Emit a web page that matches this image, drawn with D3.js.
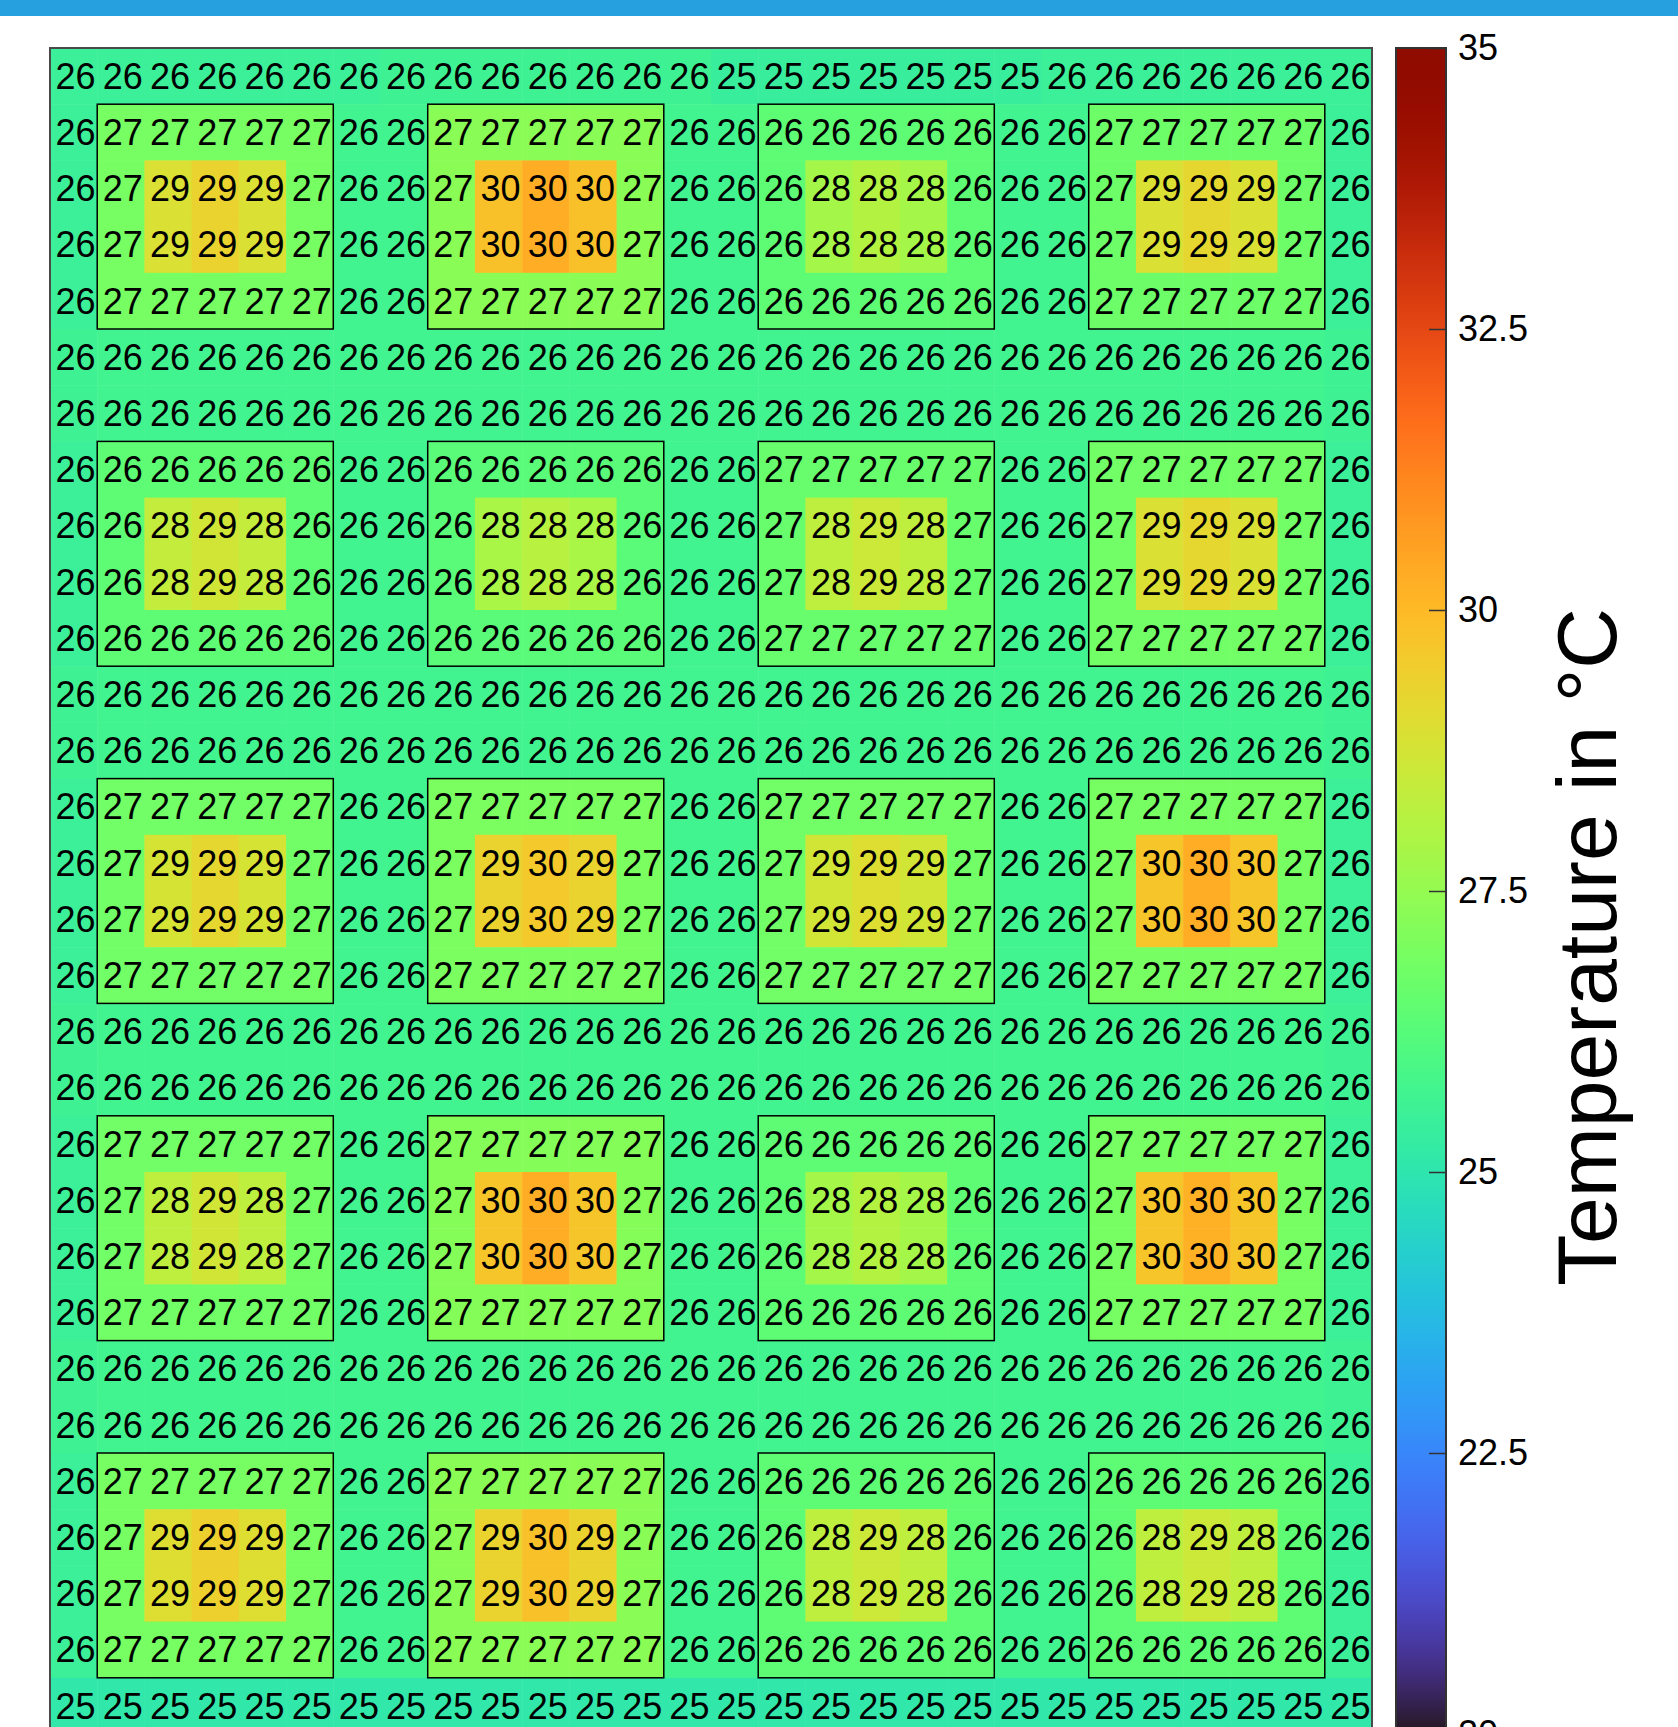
<!DOCTYPE html>
<html>
<head>
<meta charset="utf-8">
<script src="https://cdn.jsdelivr.net/npm/d3@7"></script>
<style>
    html, body { margin: 0; padding: 0; background: #fff; overflow: hidden; }
    #topBar { position: absolute; left: 0; top: 0; width: 1678px; height: 16px; background: #26a0de; }
    #heatmap { display: block; }
    text { font-family: "Liberation Sans", Arial, Helvetica, sans-serif; }
</style>
</head>
<body>
<div id="topBar"></div>
<svg id="heatmap" width="1678" height="1760"></svg>
<script>
// temperature per cell (°C), one array per row
const temps = [
    [25.5, 25.5, 25.5, 25.5, 25.5, 25.5, 25.5, 25.6, 25.6, 25.6, 25.6, 25.6, 25.6, 25.6, 25.4, 25.4, 25.4, 25.4, 25.4, 25.4, 25.4, 25.5, 25.5, 25.5, 25.5, 25.5, 25.5, 25.5],
    [25.5, 26.9, 26.9, 26.9, 26.9, 26.9, 25.7, 25.7, 27.3, 27.3, 27.3, 27.3, 27.3, 25.7, 25.7, 26.4, 26.4, 26.4, 26.4, 26.4, 25.7, 25.7, 26.7, 26.7, 26.7, 26.7, 26.7, 25.5],
    [25.5, 26.9, 28.9, 29.3, 28.9, 26.9, 25.7, 25.7, 27.3, 29.8, 30.3, 29.8, 27.3, 25.7, 25.7, 26.4, 27.8, 28.1, 27.8, 26.4, 25.7, 25.7, 26.7, 28.9, 29.2, 28.9, 26.7, 25.5],
    [25.5, 26.9, 28.9, 29.3, 28.9, 26.9, 25.7, 25.7, 27.3, 29.8, 30.3, 29.8, 27.3, 25.7, 25.7, 26.4, 27.8, 28.1, 27.8, 26.4, 25.7, 25.7, 26.7, 28.9, 29.2, 28.9, 26.7, 25.5],
    [25.5, 26.9, 26.9, 26.9, 26.9, 26.9, 25.7, 25.7, 27.3, 27.3, 27.3, 27.3, 27.3, 25.7, 25.7, 26.4, 26.4, 26.4, 26.4, 26.4, 25.7, 25.7, 26.7, 26.7, 26.7, 26.7, 26.7, 25.5],
    [25.6, 25.7, 25.7, 25.7, 25.7, 25.7, 25.7, 25.7, 25.7, 25.7, 25.7, 25.7, 25.7, 25.7, 25.7, 25.7, 25.7, 25.7, 25.7, 25.7, 25.7, 25.7, 25.7, 25.7, 25.7, 25.7, 25.7, 25.6],
    [25.6, 25.7, 25.7, 25.7, 25.7, 25.7, 25.7, 25.7, 25.7, 25.7, 25.7, 25.7, 25.7, 25.7, 25.7, 25.7, 25.7, 25.7, 25.7, 25.7, 25.7, 25.7, 25.7, 25.7, 25.7, 25.7, 25.7, 25.6],
    [25.5, 26.4, 26.4, 26.4, 26.4, 26.4, 25.7, 25.7, 26.3, 26.3, 26.3, 26.3, 26.3, 25.7, 25.7, 26.6, 26.6, 26.6, 26.6, 26.6, 25.7, 25.7, 26.8, 26.8, 26.8, 26.8, 26.8, 25.5],
    [25.5, 26.4, 28.4, 28.7, 28.4, 26.4, 25.7, 25.7, 26.3, 27.9, 28.2, 27.9, 26.3, 25.7, 25.7, 26.6, 28.3, 28.6, 28.3, 26.6, 25.7, 25.7, 26.8, 28.9, 29.2, 28.9, 26.8, 25.5],
    [25.5, 26.4, 28.4, 28.7, 28.4, 26.4, 25.7, 25.7, 26.3, 27.9, 28.2, 27.9, 26.3, 25.7, 25.7, 26.6, 28.3, 28.6, 28.3, 26.6, 25.7, 25.7, 26.8, 28.9, 29.2, 28.9, 26.8, 25.5],
    [25.5, 26.4, 26.4, 26.4, 26.4, 26.4, 25.7, 25.7, 26.3, 26.3, 26.3, 26.3, 26.3, 25.7, 25.7, 26.6, 26.6, 26.6, 26.6, 26.6, 25.7, 25.7, 26.8, 26.8, 26.8, 26.8, 26.8, 25.5],
    [25.6, 25.7, 25.7, 25.7, 25.7, 25.7, 25.7, 25.7, 25.7, 25.7, 25.7, 25.7, 25.7, 25.7, 25.7, 25.7, 25.7, 25.7, 25.7, 25.7, 25.7, 25.7, 25.7, 25.7, 25.7, 25.7, 25.7, 25.6],
    [25.6, 25.7, 25.7, 25.7, 25.7, 25.7, 25.7, 25.7, 25.7, 25.7, 25.7, 25.7, 25.7, 25.7, 25.7, 25.7, 25.7, 25.7, 25.7, 25.7, 25.7, 25.7, 25.7, 25.7, 25.7, 25.7, 25.7, 25.6],
    [25.5, 26.8, 26.8, 26.8, 26.8, 26.8, 25.7, 25.7, 27.0, 27.0, 27.0, 27.0, 27.0, 25.7, 25.7, 26.8, 26.8, 26.8, 26.8, 26.8, 25.7, 25.7, 26.9, 26.9, 26.9, 26.9, 26.9, 25.5],
    [25.5, 26.8, 28.8, 29.2, 28.8, 26.8, 25.7, 25.7, 27.0, 29.3, 29.6, 29.3, 27.0, 25.7, 25.7, 26.8, 28.7, 29.0, 28.7, 26.8, 25.7, 25.7, 26.9, 29.7, 30.3, 29.7, 26.9, 25.5],
    [25.5, 26.8, 28.8, 29.2, 28.8, 26.8, 25.7, 25.7, 27.0, 29.3, 29.6, 29.3, 27.0, 25.7, 25.7, 26.8, 28.7, 29.0, 28.7, 26.8, 25.7, 25.7, 26.9, 29.7, 30.3, 29.7, 26.9, 25.5],
    [25.5, 26.8, 26.8, 26.8, 26.8, 26.8, 25.7, 25.7, 27.0, 27.0, 27.0, 27.0, 27.0, 25.7, 25.7, 26.8, 26.8, 26.8, 26.8, 26.8, 25.7, 25.7, 26.9, 26.9, 26.9, 26.9, 26.9, 25.5],
    [25.6, 25.7, 25.7, 25.7, 25.7, 25.7, 25.7, 25.7, 25.7, 25.7, 25.7, 25.7, 25.7, 25.7, 25.7, 25.7, 25.7, 25.7, 25.7, 25.7, 25.7, 25.7, 25.7, 25.7, 25.7, 25.7, 25.7, 25.6],
    [25.6, 25.7, 25.7, 25.7, 25.7, 25.7, 25.7, 25.7, 25.7, 25.7, 25.7, 25.7, 25.7, 25.7, 25.7, 25.7, 25.7, 25.7, 25.7, 25.7, 25.7, 25.7, 25.7, 25.7, 25.7, 25.7, 25.7, 25.6],
    [25.5, 26.8, 26.8, 26.8, 26.8, 26.8, 25.7, 25.7, 27.2, 27.2, 27.2, 27.2, 27.2, 25.7, 25.7, 26.4, 26.4, 26.4, 26.4, 26.4, 25.7, 25.7, 26.9, 26.9, 26.9, 26.9, 26.9, 25.5],
    [25.5, 26.8, 28.3, 28.7, 28.3, 26.8, 25.7, 25.7, 27.2, 29.7, 30.3, 29.7, 27.2, 25.7, 25.7, 26.4, 27.8, 28.1, 27.8, 26.4, 25.7, 25.7, 26.9, 29.7, 30.2, 29.7, 26.9, 25.5],
    [25.5, 26.8, 28.3, 28.7, 28.3, 26.8, 25.7, 25.7, 27.2, 29.7, 30.3, 29.7, 27.2, 25.7, 25.7, 26.4, 27.8, 28.1, 27.8, 26.4, 25.7, 25.7, 26.9, 29.7, 30.2, 29.7, 26.9, 25.5],
    [25.5, 26.8, 26.8, 26.8, 26.8, 26.8, 25.7, 25.7, 27.2, 27.2, 27.2, 27.2, 27.2, 25.7, 25.7, 26.4, 26.4, 26.4, 26.4, 26.4, 25.7, 25.7, 26.9, 26.9, 26.9, 26.9, 26.9, 25.5],
    [25.6, 25.7, 25.7, 25.7, 25.7, 25.7, 25.7, 25.7, 25.7, 25.7, 25.7, 25.7, 25.7, 25.7, 25.7, 25.7, 25.7, 25.7, 25.7, 25.7, 25.7, 25.7, 25.7, 25.7, 25.7, 25.7, 25.7, 25.6],
    [25.6, 25.7, 25.7, 25.7, 25.7, 25.7, 25.7, 25.7, 25.7, 25.7, 25.7, 25.7, 25.7, 25.7, 25.7, 25.7, 25.7, 25.7, 25.7, 25.7, 25.7, 25.7, 25.7, 25.7, 25.7, 25.7, 25.7, 25.6],
    [25.5, 26.9, 26.9, 26.9, 26.9, 26.9, 25.7, 25.7, 27.3, 27.3, 27.3, 27.3, 27.3, 25.7, 25.7, 26.4, 26.4, 26.4, 26.4, 26.4, 25.7, 25.7, 26.4, 26.4, 26.4, 26.4, 26.4, 25.5],
    [25.5, 26.9, 29.0, 29.4, 29.0, 26.9, 25.7, 25.7, 27.3, 29.3, 29.8, 29.3, 27.3, 25.7, 25.7, 26.4, 28.3, 28.6, 28.3, 26.4, 25.7, 25.7, 26.4, 28.3, 28.6, 28.3, 26.4, 25.5],
    [25.5, 26.9, 29.0, 29.4, 29.0, 26.9, 25.7, 25.7, 27.3, 29.3, 29.8, 29.3, 27.3, 25.7, 25.7, 26.4, 28.3, 28.6, 28.3, 26.4, 25.7, 25.7, 26.4, 28.3, 28.6, 28.3, 26.4, 25.5],
    [25.5, 26.9, 26.9, 26.9, 26.9, 26.9, 25.7, 25.7, 27.3, 27.3, 27.3, 27.3, 27.3, 25.7, 25.7, 26.4, 26.4, 26.4, 26.4, 26.4, 25.7, 25.7, 26.4, 26.4, 26.4, 26.4, 26.4, 25.5],
    [25.1, 25.1, 25.1, 25.1, 25.1, 25.1, 25.1, 25.1, 25.1, 25.1, 25.1, 25.1, 25.1, 25.1, 25.1, 25.1, 25.1, 25.1, 25.1, 25.1, 25.1, 25.1, 25.1, 25.1, 25.1, 25.1, 25.1, 25.1],
];

// outlined blocks: first column / first row of each, and their size in cells
const blockCols = [1, 8, 15, 22];
const blockRows = [1, 7, 13, 19, 25];
const blockSize = { cols: 5, rows: 4 };

const colorDomain = [20, 35];
const colorTicks = [20, 22.5, 25, 27.5, 30, 32.5, 35];
const colorLabel = "Temperature in °C";

const svg = d3.select("#heatmap");
const plot = { left: 50, right: 1372, top: 48, bottom: 1734 };
const bar = { left: 1396, right: 1446 };

const nRows = temps.length;
const nCols = temps[0].length;

const mapX = d3.scaleBand().domain(d3.range(nCols)).range([plot.left, plot.right]);
const mapY = d3.scaleBand().domain(d3.range(nRows)).range([plot.top, plot.bottom]);
const color = d3.scaleSequential(d3.interpolateTurbo).domain(colorDomain);

const cells = temps.flatMap((row, r) => row.map((v, c) => ({ r, c, v })));

svg.append("g")
    .selectAll("rect")
    .data(cells)
    .enter()
    .append("rect")
    .attr("x", (d) => mapX(d.c))
    .attr("y", (d) => mapY(d.r))
    .attr("width", mapX.bandwidth() + 0.5)
    .attr("height", mapY.bandwidth() + 0.5)
    .attr("fill", (d) => color(d.v));

// block outlines
const blocks = blockRows.flatMap((r) => blockCols.map((c) => ({ r, c })));
svg.append("g")
    .selectAll("rect")
    .data(blocks)
    .enter()
    .append("rect")
    .attr("x", (d) => mapX(d.c))
    .attr("y", (d) => mapY(d.r))
    .attr("width", (d) => mapX(d.c + blockSize.cols) - mapX(d.c))
    .attr("height", (d) => mapY(d.r + blockSize.rows) - mapY(d.r))
    .attr("fill", "none")
    .attr("stroke", "#000")
    .attr("stroke-width", 1.5);

const fmt = d3.format(".0f");
svg.append("g")
    .selectAll("text")
    .data(cells)
    .enter()
    .append("text")
    .attr("x", (d) => mapX(d.c) + mapX.bandwidth() / 2 + 2)
    .attr("y", (d) => mapY(d.r) + mapY.bandwidth() / 2)
    .attr("dy", "0.35em")
    .attr("text-anchor", "middle")
    .style("font-size", "36px")
    .attr("fill", "#000")
    .text((d) => fmt(d.v));

// frame round the map
svg.append("rect")
    .attr("x", plot.left)
    .attr("y", plot.top)
    .attr("width", plot.right - plot.left)
    .attr("height", plot.bottom - plot.top)
    .attr("fill", "none")
    .attr("stroke", "#4a4a4a")
    .attr("stroke-width", 2);

// colour bar
const mapC = d3.scaleLinear().domain(colorDomain).range([plot.bottom, plot.top]);
const gradient = svg.append("defs")
    .append("linearGradient")
    .attr("id", "turboGrad")
    .attr("x1", 0).attr("y1", 1)
    .attr("x2", 0).attr("y2", 0);
gradient.selectAll("stop")
    .data(d3.range(0, 1.0001, 1 / 128))
    .enter()
    .append("stop")
    .attr("offset", (t) => t)
    .attr("stop-color", (t) => d3.interpolateTurbo(t));

svg.append("rect")
    .attr("x", bar.left)
    .attr("y", plot.top)
    .attr("width", bar.right - bar.left)
    .attr("height", plot.bottom - plot.top)
    .attr("fill", "url(#turboGrad)")
    .attr("stroke", "#333")
    .attr("stroke-width", 2);

const cAxis = d3.axisRight(mapC)
    .tickValues(colorTicks)
    .tickFormat((d) => d)
    .tickSizeInner(-17)
    .tickSizeOuter(0)
    .tickPadding(12);
svg.append("g")
    .attr("transform", `translate(${bar.right}, 0)`)
    .call(cAxis)
    .call((g) => g.select(".domain").remove())
    .call((g) => g.selectAll("line").attr("stroke", "#333").attr("stroke-width", 1.5))
    .call((g) => g.selectAll("text")
        .style("font-family", "'Liberation Sans', Arial, sans-serif")
        .style("font-size", "36px")
        .attr("fill", "#000"));

svg.append("text")
    .attr("transform", `translate(1616, ${(plot.top + plot.bottom) / 2 + 56}) rotate(-90)`)
    .attr("text-anchor", "middle")
    .style("font-size", "84px")
    .attr("fill", "#000")
    .text(colorLabel);
</script>
</body>
</html>
